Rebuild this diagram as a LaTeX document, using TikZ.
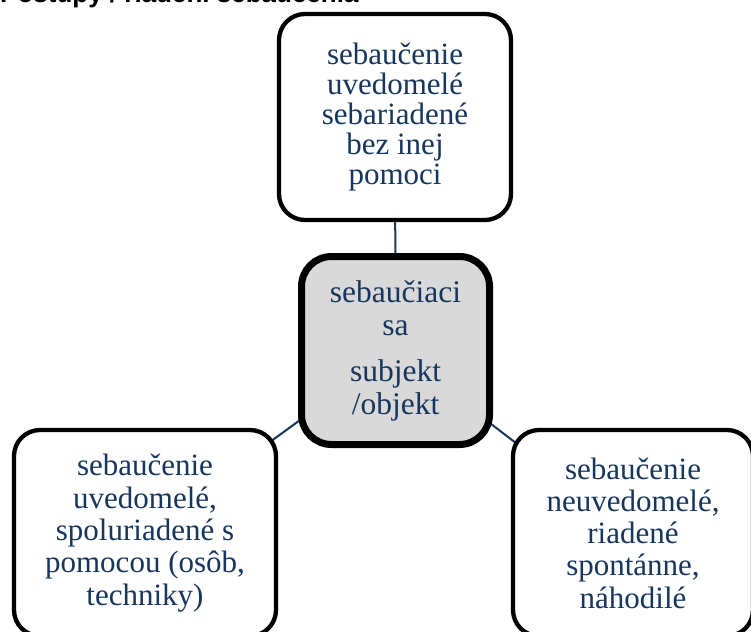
\documentclass[tikz,border=0pt]{standalone}
\usepackage{fontspec}
\setmainfont{Liberation Serif}
\newfontfamily\titlefont{Liberation Sans}
\usetikzlibrary{backgrounds}
\definecolor{navy}{RGB}{23,54,93}
\definecolor{boxgray}{RGB}{217,217,217}
\begin{document}
\begin{tikzpicture}[x=1pt,y=-1pt,
  outerbox/.style={draw=black, line width=4.3pt, rounded corners=26pt, fill=white,
    text=navy, align=center, inner sep=0pt},
  centerbox/.style={draw=black, line width=7pt, rounded corners=30pt, fill=boxgray,
    text=navy, align=center, inner sep=0pt},
  link/.style={draw=navy, line width=2pt}]
\useasboundingbox (0,0) rectangle (751,631);
\clip (0,0) rectangle (751,631);
\node[anchor=base west, inner sep=0pt, font=\titlefont\bfseries\fontsize{26}{28}\selectfont] (title) at (0,3) {Postupy / riadení sebaučenia};
\node[outerbox, minimum width=232pt, minimum height=206pt, font=\fontsize{31}{30}\selectfont] (top) at (395,117)
  {sebaučenie\\uvedomelé\\sebariadené\\bez inej\\pomoci};
\node[centerbox, minimum width=188pt, minimum height=188pt, font=\fontsize{31.5}{33}\selectfont] (c) at (395.5,350.5)
  {sebaučiaci\\sa\\[13pt]subjekt\\/objekt};
\node[outerbox, minimum width=262pt, minimum height=206pt, font=\fontsize{31}{32.3}\selectfont] (bl) at (145,533)
  {sebaučenie\\uvedomelé,\\spoluriadené s\\pomocou (osôb,\\techniky)};
\node[outerbox, minimum width=240pt, minimum height=206pt, font=\fontsize{31}{32.3}\selectfont] (br) at (633,533)
  {sebaučenie\\neuvedomelé,\\riadené\\spontánne,\\náhodilé};
\begin{scope}[on background layer]
  \draw[link] (top.center) -- (c.center);
  \draw[link] (c.center) -- (bl.center);
  \draw[link] (c.center) -- (br.center);
\end{scope}
\end{tikzpicture}
\end{document}
